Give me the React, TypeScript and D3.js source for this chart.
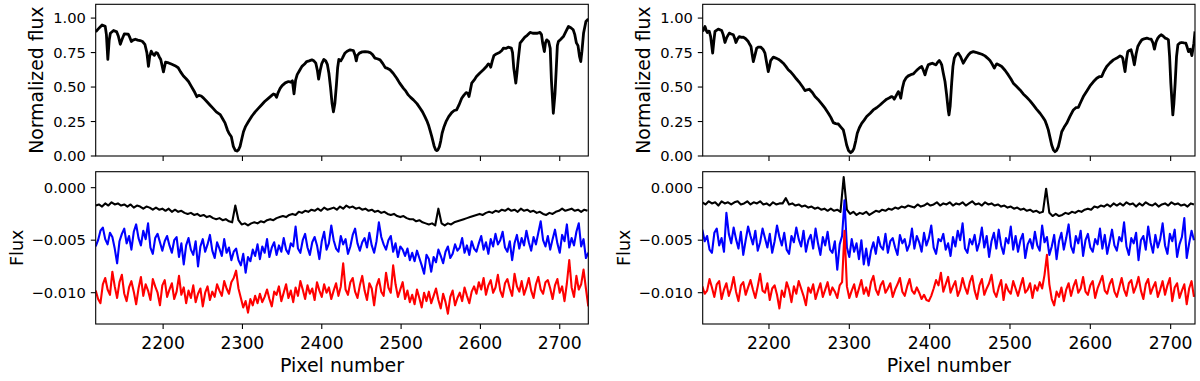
import React from 'react';
import * as d3 from 'd3';

// pixel grids of the residual curves (first pixel, step)
const leftStart = 2115;
const rightStart = 2117;
const blackStep = 4;
const colorStep = 3;

// normalized spectra, [pixel, flux]
const leftSpectrum: [number, number][] = [
  [2115, 0.9], [2118, 0.92], [2123, 0.95], [2127, 0.94], [2128.5, 0.88], [2130.3, 0.7], [2132, 0.84], [2133.5, 0.89],
  [2137.5, 0.91], [2141.5, 0.9], [2143.5, 0.87], [2146, 0.81], [2148.5, 0.85], [2151, 0.885], [2156, 0.884], [2158, 0.86],
  [2160, 0.83], [2162, 0.84], [2165, 0.847], [2168, 0.84], [2171, 0.837], [2174, 0.83], [2177, 0.81], [2179.5, 0.75],
  [2181.5, 0.65], [2183, 0.72], [2185, 0.76], [2187, 0.74], [2189, 0.73], [2191, 0.75], [2193, 0.745], [2195, 0.72],
  [2197, 0.7], [2200.4, 0.61], [2203, 0.68], [2207, 0.675], [2211, 0.665], [2215, 0.655], [2219, 0.64], [2222, 0.61],
  [2225.6, 0.58], [2229, 0.56], [2232, 0.54], [2235, 0.51], [2238, 0.48], [2240, 0.46], [2242.5, 0.43], [2245, 0.44],
  [2248, 0.435], [2251, 0.42], [2255, 0.395], [2259, 0.37], [2263, 0.345], [2267, 0.32], [2272, 0.3], [2275, 0.27],
  [2278, 0.24], [2281, 0.19], [2283, 0.165], [2286, 0.14], [2288.5, 0.07], [2291, 0.04], [2293, 0.036], [2295, 0.045],
  [2297, 0.07], [2299, 0.12], [2301.3, 0.176], [2304, 0.215], [2307.6, 0.25], [2312, 0.29], [2316, 0.32], [2320, 0.345],
  [2324, 0.37], [2328, 0.395], [2333, 0.42], [2337, 0.44], [2339, 0.45], [2341, 0.445], [2343, 0.426], [2345, 0.46],
  [2347.5, 0.49], [2350, 0.51], [2354, 0.53], [2358, 0.54], [2361, 0.535], [2363, 0.545], [2365, 0.45], [2367, 0.55],
  [2369, 0.59], [2372, 0.62], [2375, 0.65], [2378, 0.665], [2381, 0.685], [2384, 0.69], [2387.5, 0.697], [2390, 0.69],
  [2392.5, 0.673], [2394.5, 0.62], [2396, 0.557], [2398, 0.62], [2400, 0.67], [2402.6, 0.7], [2405, 0.69], [2407, 0.665],
  [2409, 0.6], [2411, 0.5], [2413, 0.38], [2414.7, 0.32], [2416.5, 0.38], [2418.5, 0.52], [2420, 0.64], [2421.5, 0.7],
  [2424, 0.69], [2426, 0.71], [2429, 0.745], [2432, 0.76], [2435.7, 0.77], [2439.8, 0.765], [2442, 0.73], [2443.5, 0.69],
  [2445, 0.73], [2447.4, 0.746], [2451, 0.755], [2454.6, 0.757], [2458, 0.755], [2461, 0.75], [2464, 0.735], [2467, 0.71],
  [2470, 0.705], [2473.5, 0.697], [2477, 0.67], [2480, 0.641], [2483, 0.635], [2486, 0.625], [2490, 0.6], [2494.5, 0.564],
  [2498, 0.53], [2503, 0.49], [2506, 0.47], [2509, 0.443], [2512, 0.425], [2515.5, 0.407], [2520, 0.38], [2524, 0.346],
  [2527, 0.32], [2530, 0.286], [2532.5, 0.255], [2534.5, 0.225], [2536.5, 0.185], [2538.7, 0.14], [2541.6, 0.073], [2543.5, 0.045],
  [2545, 0.039], [2546.5, 0.045], [2548.3, 0.068], [2550, 0.11], [2551.7, 0.165], [2554, 0.21], [2556.6, 0.249], [2560, 0.285],
  [2563.8, 0.315], [2567, 0.33], [2570, 0.334], [2573, 0.37], [2576.4, 0.419], [2579, 0.44], [2582, 0.46], [2584, 0.455],
  [2585.6, 0.431], [2587, 0.47], [2589, 0.528], [2592, 0.55], [2595, 0.576], [2599, 0.6], [2603.7, 0.625], [2607, 0.645],
  [2610, 0.668], [2612, 0.66], [2613, 0.644], [2615, 0.69], [2617, 0.728], [2620, 0.74], [2624, 0.75], [2627, 0.765],
  [2629, 0.782], [2632, 0.78], [2635, 0.789], [2639, 0.782], [2640.5, 0.75], [2642, 0.64], [2644.6, 0.528], [2646, 0.6],
  [2647.5, 0.69], [2650, 0.818], [2653, 0.84], [2656, 0.862], [2659, 0.875], [2662.6, 0.896], [2666, 0.89], [2669, 0.891],
  [2672, 0.89], [2675, 0.896], [2677, 0.88], [2678.5, 0.818], [2680.6, 0.757], [2682, 0.82], [2683.6, 0.842], [2686, 0.83],
  [2688, 0.78], [2689.5, 0.55], [2691.9, 0.31], [2694, 0.45], [2695.5, 0.62], [2697, 0.8], [2698.3, 0.83], [2701, 0.845],
  [2704.6, 0.866], [2708, 0.905], [2711, 0.939], [2714, 0.93], [2717, 0.915], [2719, 0.88], [2721, 0.82], [2723, 0.8],
  [2725, 0.72], [2726.5, 0.685], [2728, 0.76], [2730, 0.89], [2733, 0.975], [2736, 0.993],
];

const rightSpectrum: [number, number][] = [
  [2117.5, 0.903], [2120.3, 0.939], [2122, 0.91], [2123.2, 0.896], [2124.5, 0.905], [2125.7, 0.903], [2127.4, 0.866], [2129.9, 0.746],
  [2131.5, 0.84], [2132.8, 0.903], [2136.9, 0.92], [2141.1, 0.91], [2143, 0.88], [2145.2, 0.823], [2147.5, 0.86], [2150.6, 0.891],
  [2153, 0.885], [2155.6, 0.879], [2157.5, 0.85], [2158.9, 0.823], [2161, 0.85], [2163, 0.866], [2166, 0.86], [2168, 0.862],
  [2171, 0.85], [2174.2, 0.83], [2176, 0.81], [2177.6, 0.794], [2179, 0.74], [2180.5, 0.685], [2182.5, 0.73], [2184.7, 0.782],
  [2187, 0.79], [2190, 0.789], [2193, 0.77], [2195, 0.746], [2197, 0.68], [2199.1, 0.612], [2200.7, 0.65], [2202.1, 0.692],
  [2205.4, 0.717], [2208.5, 0.71], [2211.6, 0.702], [2214.5, 0.69], [2217.8, 0.673], [2221, 0.65], [2224, 0.625], [2227, 0.61],
  [2230.2, 0.588], [2234, 0.56], [2238.6, 0.528], [2242, 0.5], [2244.8, 0.474], [2247.5, 0.48], [2250.2, 0.484], [2254, 0.46],
  [2257.3, 0.431], [2261, 0.41], [2265.6, 0.378], [2270, 0.345], [2273.9, 0.31], [2277, 0.28], [2280.1, 0.242], [2283, 0.235],
  [2286.3, 0.232], [2289.5, 0.21], [2292.5, 0.189], [2294.5, 0.14], [2296.7, 0.08], [2299, 0.04], [2301.7, 0.024], [2304, 0.035],
  [2305.8, 0.056], [2308, 0.11], [2309.9, 0.165], [2312.5, 0.205], [2315.4, 0.237], [2318.5, 0.26], [2321.6, 0.286], [2326, 0.31],
  [2329.8, 0.334], [2334, 0.35], [2338.2, 0.37], [2342, 0.39], [2346.5, 0.412], [2349.5, 0.42], [2352.7, 0.431], [2354.5, 0.425],
  [2356, 0.412], [2358.5, 0.44], [2361, 0.467], [2362.5, 0.45], [2364, 0.419], [2366, 0.49], [2368.1, 0.54], [2370.5, 0.565],
  [2373.4, 0.581], [2376.5, 0.59], [2379.6, 0.595], [2382, 0.61], [2384.6, 0.625], [2387.5, 0.64], [2390.1, 0.649], [2392.3, 0.62],
  [2394.2, 0.588], [2396.2, 0.63], [2398.3, 0.661], [2401, 0.668], [2403.3, 0.673], [2406, 0.665], [2407.9, 0.661], [2410, 0.68],
  [2412, 0.692], [2413.5, 0.68], [2415, 0.661], [2417, 0.6], [2419.1, 0.54], [2421, 0.45], [2423.2, 0.33], [2424.1, 0.298],
  [2425.5, 0.36], [2427.4, 0.528], [2429, 0.65], [2430.7, 0.709], [2433, 0.735], [2435.7, 0.746], [2438.5, 0.72], [2441.9, 0.673],
  [2445, 0.705], [2448.1, 0.733], [2451, 0.75], [2454.3, 0.757], [2457.5, 0.752], [2460.6, 0.746], [2465, 0.738], [2468.9, 0.726],
  [2472, 0.71], [2475.1, 0.692], [2478, 0.665], [2480.5, 0.637], [2482, 0.655], [2483.5, 0.668], [2486.5, 0.66], [2489.7, 0.649],
  [2494, 0.62], [2497.9, 0.588], [2501, 0.56], [2504.1, 0.528], [2508, 0.505], [2512.5, 0.479], [2516.5, 0.45], [2520.8, 0.426],
  [2525, 0.4], [2529, 0.37], [2533, 0.34], [2537.4, 0.31], [2540.5, 0.285], [2543.6, 0.257], [2545.7, 0.225], [2547.7, 0.189],
  [2550, 0.13], [2551.9, 0.08], [2554, 0.045], [2556, 0.031], [2558, 0.04], [2560.2, 0.068], [2562.3, 0.12], [2564.4, 0.176],
  [2567.5, 0.21], [2570.6, 0.237], [2574.5, 0.285], [2578.9, 0.334], [2582, 0.35], [2585.1, 0.353], [2588, 0.39], [2591.3, 0.431],
  [2595.5, 0.47], [2599.6, 0.508], [2604, 0.54], [2608, 0.564], [2611, 0.575], [2614.2, 0.576], [2617, 0.615], [2620.4, 0.649],
  [2624.5, 0.675], [2628.7, 0.697], [2633, 0.71], [2637, 0.726], [2639, 0.72], [2640.4, 0.709], [2641.8, 0.66], [2643.2, 0.612],
  [2645, 0.7], [2646.6, 0.757], [2648.5, 0.765], [2650.7, 0.77], [2652.5, 0.73], [2654.8, 0.661], [2657, 0.74], [2659.1, 0.794],
  [2661.5, 0.82], [2664.1, 0.842], [2667, 0.85], [2670.3, 0.855], [2673, 0.85], [2675.7, 0.847], [2678, 0.82], [2679.8, 0.775],
  [2682, 0.83], [2684, 0.855], [2686, 0.87], [2688.1, 0.879], [2690.5, 0.87], [2693.1, 0.855], [2695.5, 0.85], [2697.2, 0.842],
  [2698.7, 0.72], [2700.2, 0.528], [2702.7, 0.298], [2704, 0.38], [2705.6, 0.528], [2707.3, 0.72], [2709, 0.806], [2711.5, 0.82],
  [2713.9, 0.823], [2716.5, 0.82], [2718.9, 0.818], [2720.5, 0.79], [2722.2, 0.757], [2724.3, 0.775], [2726.4, 0.728], [2728.9, 0.818],
  [2730.3, 0.903],
];

// residual flux curves, in units of 1e-3
const leftBlack = [
  -1.7, -1.6, -1.8, -1.5, -1.7, -1.4, -1.6, -1.5, -1.7, -1.6,
  -1.8, -1.6, -1.9, -1.7, -1.8, -2.0, -1.8, -1.9, -2.1, -1.9,
  -2.1, -2.0, -2.2, -2.0, -2.3, -2.1, -2.3, -2.2, -2.4, -2.5,
  -2.4, -2.6, -2.5, -2.7, -2.6, -2.8, -2.7, -2.9, -3.0, -2.9,
  -3.1, -3.0, -3.2, -3.3, -1.7, -3.1, -3.5, -3.4, -3.6, -3.4,
  -3.3, -3.4, -3.2, -3.3, -3.1, -3.0, -3.1, -2.9, -2.8, -2.7,
  -2.8, -2.6, -2.5, -2.6, -2.3, -2.4, -2.2, -2.3, -2.1, -2.2,
  -2.0, -2.2, -1.9, -2.1, -2.0, -1.9, -2.1, -1.8, -2.0, -1.7,
  -1.9, -1.8, -2.0, -1.9, -2.1, -2.0, -2.2, -2.1, -2.3, -2.2,
  -2.4, -2.3, -2.5, -2.6, -2.5, -2.7, -2.8, -2.7, -2.9, -3.0,
  -3.0, -3.2, -3.1, -3.3, -3.4, -3.5, -3.4, -3.6, -2.0, -3.4,
  -3.6, -3.4, -3.5, -3.3, -3.2, -3.1, -3.0, -2.9, -2.8, -2.7,
  -2.6, -2.5, -2.6, -2.4, -2.3, -2.4, -2.2, -2.3, -2.1, -2.2,
  -2.0, -2.2, -2.1, -2.3, -2.0, -2.2, -2.1, -2.3, -2.2, -2.4,
  -2.3, -2.5, -2.6, -2.4, -2.5, -2.3, -2.2, -2.0, -2.2, -2.1,
  -2.0, -2.2, -2.1, -2.3, -2.1, -2.2,
];

const leftBlue = [
  -5.6, -5.0, -4.1, -3.8, -4.9, -5.4, -4.3, -4.7, -5.8, -7.2,
  -5.1, -4.4, -3.9, -5.3, -4.6, -5.9, -4.2, -3.5, -4.8, -5.5,
  -4.1, -4.9, -3.4, -5.7, -6.3, -4.8, -4.4, -5.2, -6.0, -5.1,
  -4.6, -5.5, -6.2, -5.0, -4.7, -6.6, -5.3, -7.3, -5.5, -4.8,
  -5.9, -6.4, -5.1, -7.5, -5.6, -4.9, -6.1, -5.4, -4.5, -6.0,
  -6.7, -5.2, -5.8, -6.5, -4.9, -6.2, -5.7, -6.9, -6.1, -5.8,
  -6.9, -7.4, -6.3, -8.1, -6.6, -7.0, -5.9, -6.5, -5.4, -6.8,
  -5.6, -6.2, -4.9, -6.6, -5.7, -5.2, -6.4, -5.5, -6.1, -4.8,
  -5.9, -6.3, -5.3, -5.6, -3.7, -5.8, -6.2, -5.0, -4.4, -5.7,
  -6.4, -5.2, -4.7, -5.5, -6.8, -5.1, -4.2, -5.9, -5.3, -3.6,
  -5.0, -5.8, -6.1, -4.6, -5.4, -4.9, -6.3, -5.6, -4.5, -3.9,
  -5.3, -6.0, -5.2, -4.8, -5.7, -4.3, -5.5, -6.2, -5.1, -3.3,
  -4.7, -5.4, -5.9, -5.0, -4.6, -6.1, -5.3, -6.6, -5.6, -5.9,
  -6.5, -5.8, -6.9, -6.2, -7.0, -6.0, -6.7, -7.4, -8.2, -6.4,
  -6.8, -8.0, -6.6, -7.1, -5.9, -6.5, -7.2, -6.1, -5.6, -6.7,
  -6.3, -5.4, -6.0, -5.7, -4.8, -6.2, -5.5, -6.4, -5.1, -5.8,
  -6.1, -5.3, -4.6, -5.9, -5.2, -6.3, -4.9, -5.6, -4.4, -5.4,
  -5.0, -4.2, -5.7, -6.1, -5.1, -6.9, -5.3, -4.5, -5.8, -4.8,
  -5.5, -4.1, -5.2, -6.0, -4.7, -5.4, -4.3, -3.2, -5.0, -5.6,
  -4.6, -5.9, -4.9, -4.0, -5.3, -6.2, -4.5, -5.1, -3.5, -5.7,
  -4.8, -5.5, -4.2, -3.4, -5.6, -4.9, -6.7, -6.2,
];

const leftRed = [
  -9.8, -10.6, -11.0, -9.2, -8.6, -9.7, -10.2, -8.0, -9.4, -10.5,
  -9.0, -8.3, -10.1, -10.8, -9.5, -8.9, -9.9, -11.1, -9.6, -8.5,
  -10.3, -9.2, -9.8, -10.7, -8.7, -9.4, -10.0, -11.2, -9.3, -8.8,
  -10.4, -9.7, -9.1, -10.6, -9.9, -8.4, -10.2, -9.5, -11.0, -9.8,
  -10.5, -9.3, -10.9, -10.1, -9.6, -11.3, -10.0, -9.4, -10.7, -9.9,
  -10.4, -9.2, -9.8, -10.3, -8.9, -9.6, -10.1, -9.0, -8.6, -7.9,
  -9.6, -10.5, -11.4, -10.8, -11.9, -10.6, -11.2, -10.3, -11.0, -10.1,
  -10.9, -10.4, -9.7, -10.6, -11.3, -9.9, -10.2, -9.4, -10.8, -10.0,
  -9.2, -10.5, -9.8, -10.9, -9.5, -10.3, -8.9, -9.7, -10.6, -9.3,
  -10.1, -9.6, -10.7, -9.0, -9.8, -10.4, -9.2, -10.0, -9.5, -10.6,
  -9.8, -9.1, -10.3, -9.4, -7.2, -9.7, -10.2, -9.0, -8.6, -9.9,
  -10.5, -9.3, -8.4, -9.8, -10.7, -9.1, -9.6, -11.2, -9.4, -8.7,
  -9.9, -10.3, -8.1, -9.5, -10.0, -7.4, -9.2, -10.4, -9.7, -9.0,
  -10.6, -9.8, -10.9, -10.2, -11.1, -9.7, -10.5, -11.4, -10.0, -10.8,
  -9.9, -11.0, -10.3, -9.6, -10.7, -11.5, -10.1, -10.9, -12.0, -10.4,
  -9.8, -11.2, -10.5, -10.0, -10.8, -9.5, -10.3, -11.0, -9.9, -9.4,
  -10.1, -9.0, -9.7, -8.6, -10.2, -9.3, -8.8, -10.0, -9.5, -8.3,
  -9.8, -10.4, -9.1, -8.7, -9.6, -10.3, -8.2, -9.4, -9.9, -8.9,
  -10.2, -9.5, -8.6, -9.8, -10.5, -9.2, -8.5, -9.7, -10.1, -9.0,
  -8.8, -9.6, -10.6, -9.3, -8.7, -10.0, -9.4, -10.8, -9.1, -6.9,
  -9.5, -10.4, -8.4, -9.7, -9.2, -7.8, -9.6, -11.3,
];

const rightBlack = [
  -1.4, -1.6, -1.3, -1.5, -1.4, -1.7, -1.3, -1.5, -1.4, -1.6,
  -1.4, -1.3, -1.6, -1.5, -1.3, -1.6, -1.4, -1.5, -1.3, -1.6,
  -1.5, -1.7, -1.4, -1.6, -1.5, -1.5, -1.0, -1.6, -1.5, -1.7,
  -1.6, -1.8, -1.7, -1.9, -1.8, -2.0, -1.9, -2.1, -2.0, -2.2,
  -2.0, -2.2, -2.1, -2.3, 1.0, -2.1, -2.5, -2.3, -2.6, -2.4,
  -2.5, -2.3, -2.6, -2.4, -2.2, -2.3, -2.1, -2.2, -2.0, -2.1,
  -1.9, -2.0, -1.8, -1.9, -1.7, -1.8, -1.9, -1.6, -1.8, -1.7,
  -1.5, -1.7, -1.6, -1.4, -1.7, -1.5, -1.6, -1.4, -1.7, -1.5,
  -1.6, -1.4, -1.7, -1.5, -1.3, -1.6, -1.5, -1.7, -1.4, -1.6,
  -1.5, -1.7, -1.6, -1.8, -1.7, -1.9, -1.8, -2.0, -1.9, -2.1,
  -2.0, -2.2, -2.1, -2.3, -2.2, -2.4, -2.3, -0.1, -2.4, -2.7,
  -2.5, -2.7, -2.6, -2.4, -2.5, -2.3, -2.4, -2.2, -2.3, -2.1,
  -2.0, -2.1, -1.8, -1.9, -1.7, -1.8, -1.6, -1.8, -1.5, -1.7,
  -1.5, -1.7, -1.4, -1.6, -1.5, -1.8, -1.5, -1.7, -1.4, -1.6,
  -1.7, -1.5, -1.8, -1.6, -1.5, -1.7, -1.4, -1.6, -1.5, -1.7,
  -1.6, -1.8, -1.5, -1.6,
];

const rightBlue = [
  -4.0, -5.1, -4.6, -5.9, -6.2, -4.3, -3.9, -5.5, -4.8, -6.1,
  -2.4, -4.4, -5.3, -3.8, -4.9, -5.8, -4.2, -6.4, -5.0, -3.7,
  -4.6, -5.4, -4.1, -6.0, -5.2, -3.9, -4.8, -5.7, -4.4, -6.2,
  -5.1, -3.6, -4.7, -5.5, -4.3, -5.9, -6.3, -4.6, -5.2, -3.8,
  -4.9, -5.6, -4.1, -6.1, -5.0, -4.5, -5.8, -3.9, -5.3, -6.4,
  -4.7, -5.5, -4.2, -5.9, -6.2, -5.1, -7.8, -5.4, -4.6, -1.2,
  -5.7, -6.6, -4.9, -6.1, -5.3, -6.8, -5.0, -7.3, -5.8, -7.4,
  -6.0, -5.2, -6.3, -4.7, -5.6, -5.9, -4.4, -6.2, -5.1, -4.8,
  -5.7, -6.4, -4.5, -5.3, -4.9, -6.0, -5.4, -3.9, -5.8, -4.6,
  -5.2, -6.1, -4.3, -5.5, -4.8, -3.6, -5.7, -6.3, -4.9, -5.1,
  -4.4, -5.9, -5.3, -6.5, -4.7, -5.6, -4.1, -5.0, -3.4, -5.8,
  -6.2, -4.9, -5.4, -4.5, -6.0, -5.2, -3.8, -5.7, -4.6, -6.6,
  -5.1, -4.3, -5.8, -4.0, -5.5, -6.3, -4.8, -5.3, -3.7, -5.9,
  -4.6, -6.1, -5.0, -4.4, -6.7, -5.4, -4.9, -5.8, -4.2, -5.5,
  -6.0, -3.6, -5.2, -4.7, -6.4, -5.6, -4.5, -6.8, -5.1, -4.3,
  -5.9, -4.8, -3.5, -5.6, -6.2, -4.6, -5.3, -4.1, -6.5, -5.0,
  -4.4, -5.7, -6.1, -4.9, -5.4, -3.9, -5.8, -4.5, -6.3, -5.2,
  -4.0, -5.5, -6.0, -4.7, -5.1, -3.3, -5.6, -6.4, -4.8, -5.3,
  -4.3, -6.9, -5.0, -4.6, -5.9, -3.7, -5.2, -6.2, -4.5, -5.7,
  -4.9, -3.4, -5.5, -6.3, -4.4, -5.1, -4.0, -6.6, -5.4, -4.7,
  -2.9, -6.7, -5.3, -4.1, -5.0,
];

const rightRed = [
  -9.4, -10.1, -9.8, -8.7, -9.5, -10.4, -9.2, -8.9, -10.6, -9.7,
  -9.1, -10.3, -9.6, -8.5, -9.9, -10.8, -9.3, -9.0, -10.2, -9.5,
  -8.8, -9.7, -10.5, -9.4, -8.2, -9.8, -10.0, -9.1, -10.7, -9.6,
  -9.3, -10.2, -11.5, -9.8, -10.4, -9.0, -9.7, -10.9, -9.4, -10.1,
  -8.9, -9.6, -10.3, -11.2, -9.5, -10.0, -9.2, -10.6, -9.8, -9.1,
  -10.4, -9.7, -9.0, -10.2, -9.5, -9.9, -10.5, -9.3, -9.0, -4.1,
  -9.4, -10.5, -9.8, -9.2, -10.4, -9.6, -8.8, -10.1, -9.5, -10.3,
  -9.0, -8.4, -9.7, -10.2, -9.3, -8.9, -10.0, -9.6, -9.1, -10.4,
  -9.7, -9.2, -8.6, -9.9, -10.3, -9.4, -8.7, -9.8, -10.1, -9.5,
  -10.0, -10.6, -10.2, -10.7, -10.8, -10.3, -9.6, -8.8, -9.3, -8.1,
  -9.9, -9.2, -8.5, -10.0, -9.4, -8.9, -10.3, -9.7, -8.6, -9.5,
  -10.1, -9.0, -8.4, -9.8, -10.6, -9.3, -8.7, -10.2, -9.6, -9.1,
  -8.3, -9.9, -10.4, -9.5, -8.8, -10.7, -9.2, -9.8, -10.1, -8.9,
  -9.6, -10.3, -9.4, -8.6, -10.0, -9.7, -9.1, -10.5, -9.3, -9.8,
  -9.0, -9.6, -8.3, -6.4, -9.2, -10.6, -11.2, -9.9, -10.4, -9.5,
  -10.8, -9.7, -9.1, -10.3, -9.4, -8.8, -10.0, -9.6, -8.5, -9.9,
  -10.2, -9.3, -8.9, -10.5, -9.6, -9.0, -8.4, -9.8, -10.1, -9.2,
  -8.7, -9.9, -10.4, -9.5, -8.6, -9.7, -10.3, -9.1, -8.8, -10.0,
  -9.4, -8.5, -9.8, -10.6, -9.2, -8.7, -10.1, -9.5, -9.0, -10.4,
  -9.7, -8.9, -10.2, -9.3, -8.6, -10.8, -9.5, -9.1, -10.5, -9.8,
  -9.2, -11.1, -9.6, -8.9, -10.4,
];

const normTicks = [0, 0.25, 0.5, 0.75, 1.0];
const fluxTicks = [0, -0.005, -0.01];
const xTicks = [2200, 2300, 2400, 2500, 2600, 2700];

const leftDomain: [number, number] = [2115, 2736];
const rightDomain: [number, number] = [2117.5, 2730.3];
const normDomain: [number, number] = [0, 1.1];
const fluxDomain: [number, number] = [-0.01298, 0.00152];

const font = 'DejaVu Sans, sans-serif';
const TICK = 4.9;

type Scale = d3.ScaleLinear<number, number>;

type AxesProps = {
  id: string;
  left: number; right: number; top: number; bottom: number;
  xDomain: [number, number]; yDomain: [number, number];
  yTicks: number[]; yFormat: (v: number) => string;
  xLabels: boolean;
  ylabel: string; ylabelX: number; ylabelSize: number;
  draw: (x: Scale, y: Scale) => React.ReactNode;
};

const Axes = (p: AxesProps) => {
  const x = d3.scaleLinear().domain(p.xDomain).range([p.left, p.right]);
  const y = d3.scaleLinear().domain(p.yDomain).range([p.bottom, p.top]);
  const midY = (p.top + p.bottom) / 2;
  return (
    <g>
      <defs>
        <clipPath id={p.id}>
          <rect x={p.left} y={p.top} width={p.right - p.left} height={p.bottom - p.top} />
        </clipPath>
      </defs>
      <g clipPath={`url(#${p.id})`}>{p.draw(x, y)}</g>
      <rect x={p.left} y={p.top} width={p.right - p.left} height={p.bottom - p.top}
        fill="none" stroke="#000" strokeWidth={1.1} />
      {xTicks.map(t => (
        <g key={t}>
          <line x1={x(t)} x2={x(t)} y1={p.bottom} y2={p.bottom + TICK} stroke="#000" strokeWidth={1.1} />
          {p.xLabels && (
            <text x={x(t)} y={p.bottom + 24.5} textAnchor="middle" fontSize={17.2} fontFamily={font}>{t}</text>
          )}
        </g>
      ))}
      {p.yTicks.map(t => (
        <g key={t}>
          <line x1={p.left - TICK} x2={p.left} y1={y(t)} y2={y(t)} stroke="#000" strokeWidth={1.1} />
          <text x={p.left - 9.8} y={y(t)} dy="0.36em" textAnchor="end" fontSize={14.7} fontFamily={font}>{p.yFormat(t)}</text>
        </g>
      ))}
      <text transform={`translate(${p.ylabelX},${midY}) rotate(-90)`} textAnchor="middle"
        fontSize={p.ylabelSize} fontFamily={font}>{p.ylabel}</text>
      {p.xLabels && (
        <text x={(p.left + p.right) / 2} y={372} textAnchor="middle" fontSize={19} fontFamily={font}>Pixel number</text>
      )}
    </g>
  );
};

const spectrumPath = (x: Scale, y: Scale, data: [number, number][]) =>
  d3.line<[number, number]>().x(d => x(d[0])).y(d => y(d[1]))(data) || '';

// residuals are sampled on a regular pixel grid and stored in 1e-3 flux units
const residualPath = (x: Scale, y: Scale, start: number, step: number, data: number[]) =>
  d3.line<number>().x((_, i) => x(start + i * step)).y(d => y(d / 1000))(data) || '';

const App = () => {
  const columns = [
    { key: 'l', left: 95.7, right: 588.3, domain: leftDomain, spectrum: leftSpectrum, start: leftStart,
      black: leftBlack, blue: leftBlue, red: leftRed, labelTop: 43.3, labelBottom: 23.3 },
    { key: 'r', left: 702.7, right: 1195, domain: rightDomain, spectrum: rightSpectrum, start: rightStart,
      black: rightBlack, blue: rightBlue, red: rightRed, labelTop: 650, labelBottom: 630 },
  ];
  const fmt2 = d3.format('.2f');
  const fmt3 = d3.format('.3f');

  return (
    <svg width={1200} height={381} style={{ position: 'absolute', left: 0, top: 0, background: '#fff' }}>
      <rect width={1200} height={381} fill="#fff" />
      {columns.map(c => (
        <g key={c.key}>
          <Axes id={`top-${c.key}`} left={c.left} right={c.right} top={4.3} bottom={156}
            xDomain={c.domain} yDomain={normDomain} yTicks={normTicks} yFormat={fmt2}
            xLabels={false} ylabel="Normalized flux" ylabelX={c.labelTop} ylabelSize={18.8}
            draw={(x, y) => (
              <path d={spectrumPath(x, y, c.spectrum)} fill="none" stroke="#000" strokeWidth={2.8}
                strokeLinejoin="round" />
            )} />
          <Axes id={`bot-${c.key}`} left={c.left} right={c.right} top={171.7} bottom={324}
            xDomain={c.domain} yDomain={fluxDomain} yTicks={fluxTicks} yFormat={fmt3}
            xLabels={true} ylabel="Flux" ylabelX={c.labelBottom} ylabelSize={17.5}
            draw={(x, y) => (
              <g fill="none" strokeWidth={2.1} strokeLinejoin="round">
                <path d={residualPath(x, y, c.start, blackStep, c.black)} stroke="#000" />
                <path d={residualPath(x, y, c.start, colorStep, c.blue)} stroke="#0000ff" />
                <path d={residualPath(x, y, c.start, colorStep, c.red)} stroke="#ff0000" />
              </g>
            )} />
        </g>
      ))}
    </svg>
  );
};

export default App;
